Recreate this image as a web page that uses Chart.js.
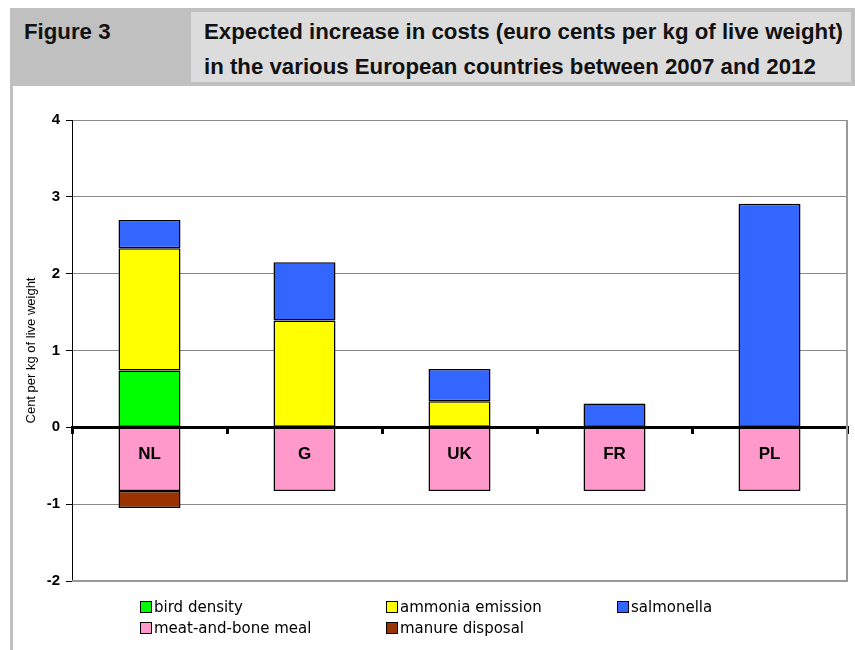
<!DOCTYPE html>
<html lang="en">
<head>
    <meta charset="UTF-8">
    <title>Figure 3</title>
    <script src="https://cdn.jsdelivr.net/npm/chart.js"></script>
    <style>
        body { margin: 0; width: 855px; height: 650px; background: #fff; position: relative; overflow: hidden; font-family: "Liberation Sans", Arial, sans-serif; }
        #head { position: absolute; left: 10px; top: 8px; width: 845px; height: 78px; background: #c0c0c0; }
        .hd { position: absolute; font: bold 22px "Liberation Sans", Arial, sans-serif; color: #111; white-space: nowrap; transform-origin: 0 0; }
        #title { position: absolute; left: 191px; top: 12px; width: 660px; height: 70px; background: #dcdcdc; }
        #side { position: absolute; left: 10px; top: 86px; width: 3px; height: 564px; background: #c0c0c0; }
        #wrap { position: absolute; left: 13px; top: 86px; }
        .leg { position: absolute; font: 15px "DejaVu Sans", sans-serif; color: #000; white-space: nowrap; }
        .leg i { display: inline-block; width: 10px; height: 10px; border: 1px solid #000; margin-right: 2px; vertical-align: -1px; }
    </style>
</head>
<body>
    <div id="head"></div>
    <div id="title"></div>
    <div class="hd" id="fig" style="left: 24px; top: 19px;">Figure 3</div>
    <div class="hd" id="t1" style="left: 204px; top: 19px;">Expected increase in costs (euro cents per kg of live weight)</div>
    <div class="hd" id="t2" style="left: 204px; top: 54px;">in the various European countries between 2007 and 2012</div>
    <div id="side"></div>
    <div id="wrap"><canvas id="chart" width="842" height="564"></canvas></div>
    <div id="legend"></div>
    <script>
        // values (cents per kg live weight)
        const countries = ['NL', 'G', 'UK', 'FR', 'PL'];
        const birdDensity = [0.74, null, null, null, null];
        const ammoniaEmission = [1.59, 1.39, 0.34, null, null];
        const salmonella = [0.37, 0.76, 0.42, 0.31, 2.91];
        const meatAndBoneMeal = [-0.83, -0.83, -0.83, -0.83, -0.83];
        const manureDisposal = [-0.22, null, null, null, null];
        const yTicks = [-2, -1, 0, 1, 2, 3, 4];

        const series = [
            { label: 'bird density', data: birdDensity, color: '#00ff00' },
            { label: 'ammonia emission', data: ammoniaEmission, color: '#ffff00' },
            { label: 'salmonella', data: salmonella, color: '#3366ff' },
            { label: 'meat-and-bone meal', data: meatAndBoneMeal, color: '#ff99cc' },
            { label: 'manure disposal', data: manureDisposal, color: '#993300' }
        ];

        // the header font is a narrow one; squeeze Liberation Sans to the same width
        const t1 = document.getElementById('t1');
        const k = 639 / t1.getBoundingClientRect().width;
        document.querySelectorAll('.hd').forEach(el => { el.style.transform = 'scaleX(' + k + ')'; });

        // gray frame on the right and bottom of the plot area
        const frame = {
            id: 'frame',
            afterDraw(chart) {
                const a = chart.chartArea, c = chart.ctx;
                c.save();
                c.strokeStyle = '#999';
                c.lineWidth = 2;
                c.beginPath();
                c.moveTo(a.left, a.bottom);
                c.lineTo(a.right, a.bottom);
                c.lineTo(a.right, a.top);
                c.stroke();
                c.restore();
            }
        };

        new Chart(document.getElementById('chart'), {
            type: 'bar',
            data: {
                labels: countries,
                datasets: series.map(s => ({
                    label: s.label,
                    data: s.data,
                    backgroundColor: s.color,
                    borderColor: '#000',
                    borderWidth: 1.5,
                    borderSkipped: false,
                    barPercentage: 0.4,
                    categoryPercentage: 1
                }))
            },
            options: {
                responsive: false,
                animation: false,
                layout: { padding: { top: 34, right: 8, bottom: 69, left: 0 } },
                plugins: { legend: { display: false }, tooltip: { enabled: false } },
                scales: {
                    x: {
                        stacked: true,
                        position: { y: 0 },
                        border: { color: '#000', width: 3, z: 1 },
                        grid: { offset: true, drawOnChartArea: false, tickLength: 5, color: '#000', lineWidth: 3, z: 1 },
                        ticks: { z: 1, color: '#000', padding: 12, font: { family: 'Liberation Sans', size: 17, weight: 'bold' } }
                    },
                    y: {
                        stacked: true,
                        min: -2,
                        max: 4,
                        afterBuildTicks: s => { s.ticks = yTicks.map(v => ({ value: v })); },
                        afterFit: s => { s.width = 59; },
                        border: { color: '#000', width: 1 },
                        grid: { color: '#888', lineWidth: 1, tickColor: '#000', tickLength: 6 },
                        ticks: { color: '#000', padding: 6, font: { family: 'Liberation Sans', size: 15, weight: 'bold' } },
                        title: {
                            display: true,
                            text: 'Cent per kg of live weight',
                            color: '#000',
                            padding: { top: 11, bottom: 0 },
                            font: { family: 'Liberation Sans', size: 13 }
                        }
                    }
                }
            },
            plugins: [frame]
        });

        // legend in the original's three-column grid
        const legPos = [[140, 598], [386, 598], [617, 598], [140, 619], [386, 619]];
        document.getElementById('legend').innerHTML = series.map((s, i) =>
            '<div class="leg" style="left:' + legPos[i][0] + 'px;top:' + legPos[i][1] + 'px"><i style="background:' + s.color + '"></i>' + s.label + '</div>'
        ).join('');
    </script>
</body>
</html>
